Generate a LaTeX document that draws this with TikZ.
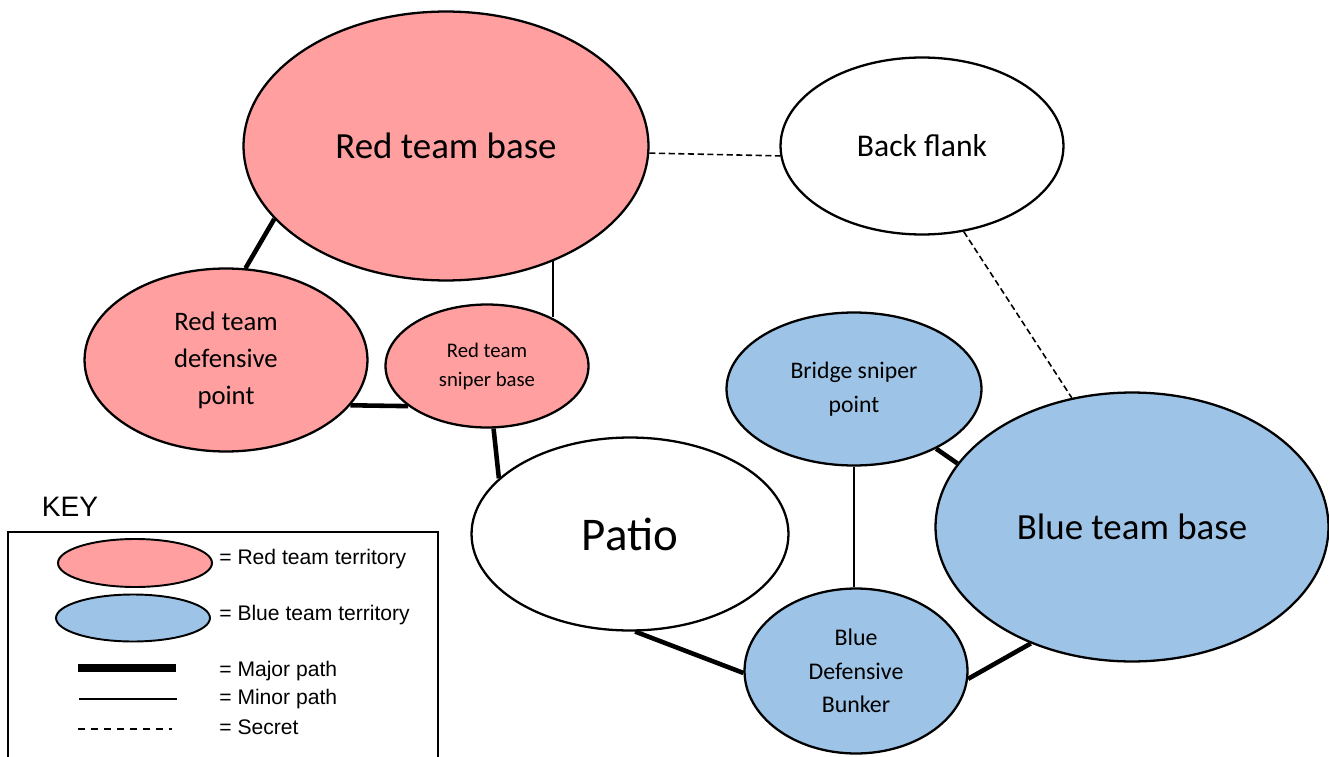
\documentclass[tikz,border=0pt]{standalone}
\usepackage{fontspec}
\setmainfont{Carlito}
\newfontfamily\keyfont{Liberation Sans}
\usetikzlibrary{shapes.geometric}
\definecolor{redzone}{HTML}{FF9F9F}
\definecolor{bluezone}{HTML}{9DC3E6}
\tikzset{
  area/.style={ellipse, draw, line width=1.3pt, inner sep=0pt, align=center},
  major/.style={line width=2.6pt},
  minor/.style={line width=1.1pt},
  secret/.style={line width=0.9pt, dash pattern=on 3.5pt off 2pt},
  keytext/.style={anchor=west, inner sep=0pt, font=\keyfont\fontsize{12}{14}\selectfont},
}
\begin{document}
\begin{tikzpicture}[x=0.02cm, y=-0.02cm]
\useasboundingbox (0,0) rectangle (1329,757);

% areas
\node[area, fill=redzone, minimum width=8.1cm, minimum height=5.38cm, font=\fontsize{21}{25}\selectfont] (redbase) at (446,146) {Red team base};
\node[area, fill=white, minimum width=5.66cm, minimum height=3.54cm, font=\fontsize{18}{22}\selectfont] (backflank) at (922,146) {Back flank};
\node[area, fill=redzone, minimum width=5.66cm, minimum height=3.66cm, font=\fontsize{15.2}{21}\selectfont] (reddef) at (226,360) {Red team\\defensive\\point};
\node[area, fill=redzone, minimum width=4.06cm, minimum height=2.46cm, font=\fontsize{11.8}{16.5}\selectfont] (redsniper) at (487,366) {Red team\\sniper base};
\node[area, fill=bluezone, minimum width=5.1cm, minimum height=3.06cm, font=\fontsize{13.5}{19.4}\selectfont] (bridge) at (854,389) {Bridge sniper\\point};
\node[area, fill=white, minimum width=6.34cm, minimum height=3.86cm, font=\fontsize{26.7}{30}\selectfont] (patio) at (630,534) {Patio};
\node[area, fill=bluezone, minimum width=7.86cm, minimum height=5.38cm, font=\fontsize{21}{25}\selectfont] (bluebase) at (1132,527) {Blue team base};
\node[area, fill=bluezone, minimum width=4.46cm, minimum height=3.3cm, font=\fontsize{13.6}{19}\selectfont] (bunker) at (856,671) {Blue\\Defensive\\Bunker};

% paths
\draw[secret] (redbase.-2) -- (backflank.184);
\draw[secret] (backflank.-64) -- (bluebase.115);
\draw[major] (redbase.203) -- (reddef.78);
\draw[minor] (redbase.-47.7) -- (redbase.-47.7 |- redsniper.37);
\draw[major] (reddef.-20) -- (redsniper.207);
\draw[major] (redsniper.-84) -- (patio.157);
\draw[major] (bridge.-36) -- (bluebase.160);
\draw[minor] (bridge.south) -- (bridge.south |- bunker.north);
\draw[major] (patio.-87) -- (bunker.181);
\draw[major] (bunker.-4) -- (bluebase.229);

% key
\node[font=\keyfont\fontsize{16}{19}\selectfont] (keytitle) at (70,507) {KEY};
\draw[line width=0.8pt] (8,532) rectangle (438,790);
\node[area, line width=1.1pt, fill=redzone, minimum width=3.08cm, minimum height=0.96cm] (keyred) at (135,563) {};
\node[area, line width=1.1pt, fill=bluezone, minimum width=3.08cm, minimum height=0.94cm] (keyblue) at (133,618) {};
\coordinate (majA) at (78,668);  \coordinate (majB) at (176,668);
\coordinate (minA) at (79,699);  \coordinate (minB) at (177,699);
\coordinate (secA) at (78,729);  \coordinate (secB) at (172,729);
\draw[line width=4pt] (majA) -- (majB);
\draw[minor] (minA) -- (minB);
\draw[line width=0.9pt, dash pattern=on 4pt off 3.4pt] (secA) -- (secB);
\node[keytext] (kt1) at (219,559) {= Red team territory};
\node[keytext] (kt2) at (219,615) {= Blue team territory};
\node[keytext] (kt3) at (219,671) {= Major path};
\node[keytext] (kt4) at (219,699) {= Minor path};
\node[keytext] (kt5) at (219,727) {= Secret};
\end{tikzpicture}
\end{document}
